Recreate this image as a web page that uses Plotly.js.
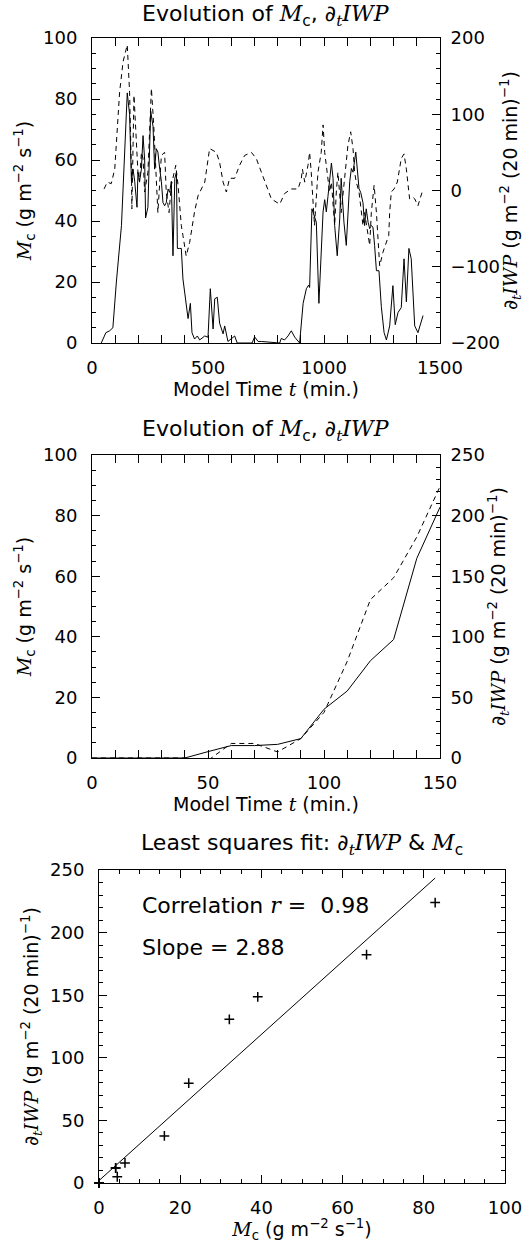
<!DOCTYPE html>
<html><head><meta charset="utf-8">
<script src="https://cdn.plot.ly/plotly-3.0.1.min.js"></script>
<style>html,body{margin:0;padding:0;background:#fff}#chart{width:524px;height:1243px}</style>
</head><body><div id="chart"></div>
<script>
// ---- Panel 1: full run (Model time, min.) ----
const timeMc = [40,60,76,90,105,127,152,162,170,177,184,194,198,205,213,220,227,231,241,253,263,270,277,284,292,299,306,313,320,328,335,342,349,357,364,368,378,385,392,406,414,424,431,442,454,464,486,500,510,522,529,540,550,565,572,586,600,615,626,650,690,701,716,730,760,780,809,816,830,845,859,874,895,910,924,934,938,948,959,967,978,996,1003,1010,1017,1024,1032,1039,1046,1057,1068,1074,1082,1086,1096,1103,1111,1118,1125,1137,1144,1151,1158,1168,1175,1182,1190,1197,1204,1211,1218,1226,1237,1247,1259,1269,1283,1297,1307,1319,1333,1345,1355,1366,1376,1391,1405,1427];
const mcValues = [0,3.4,4,5,20,38.5,82,75,53,57,53,44.5,56,53,57,68,60,41,44.5,76,71,57,63.7,62.6,57,53,46,45,46,50.5,49.4,53,28.6,54,56,31,31,31,21,13,8,13,3.4,1.3,2.3,1,2.3,1.9,17.8,4.6,14.5,15,6.5,3,5.6,0.5,1.5,2.3,0,0,0,2,0.5,0.5,0.3,0,0,1.5,1,2.3,4,1.9,0,13,17.8,19,18.2,44,41,39.6,13,43,47,43,48,54,59,54,38.5,28.6,41,54,41,39.6,32,42,53,57.2,56,62.6,56,50.6,49.4,46,38.5,44,39.6,37.5,38.5,38,32,23.7,23.7,12,3.4,1,5.6,18.8,6,10,11.6,27.6,13.5,31,27.6,5.6,3.4,9];
const timeIWP = [52,66,83,98,119,134,152,162,170,172,181,191,198,205,213,220,227,241,256,266,277,284,299,313,320,332,342,356,361,371,385,392,406,421,442,457,486,507,521,536,550,565,579,593,615,636,658,687,708,730,751,773,809,830,859,888,902,907,917,931,938,945,959,974,988,996,1003,1017,1024,1032,1046,1053,1060,1074,1086,1096,1103,1115,1125,1132,1139,1151,1158,1168,1175,1190,1197,1204,1216,1226,1233,1240,1254,1269,1279,1283,1290,1302,1316,1333,1345,1355,1369,1384,1391,1405,1427];
const iwpValues = [2,11,9,28,129,169,191,129,24,-24,125,72,24,11,50,42,-2,24,134,86,24,-29,46,50,-2,-29,7,24,33,7,-46,-59,-86,-68,-28,-7,11,55,53,50,37,11,-2,16,16,33,46,50,42,24,7,-11,-18,-4,2,2,15,28,11,33,50,24,-46,24,50,86,50,11,-2,11,-46,-2,24,-29,7,33,59,77,55,24,11,-2,-24,-46,-29,-55,-72,-29,7,-29,-68,-99,-81,-68,-59,-29,-2,2,11,42,48,28,-11,-9,-11,-20,2];

// ---- Panel 2/3: first 150 minutes ----
const timeEarly = [0,10,20,30,40,50,60,70,80,90,100,110,120,130,140,150];
const mcEarly  = [0,0,0,0,0,2.1,4.1,4.1,4.5,6.4,16.1,22.1,32.1,39.1,65.9,82.8];
const iwpEarly = [0,0,0,0,0,-2,12,12,5,16,37.6,79.7,130.7,148.7,182.4,224];

// ---- Text ----
const it = s => '<span style="font-family:\'DejaVu Serif\'"><i>' + s + '</i></span>';
const titleEvo = 'Evolution of ' + it('M') + '<sub>c</sub>, ∂<sub>' + it('t') + '</sub>' + it('IWP');
const titleFit = 'Least squares fit: ∂<sub>' + it('t') + '</sub>' + it('IWP') + ' &amp; ' + it('M') + '<sub>c</sub>';
const labelMc = it('M') + '<sub>c</sub> (g m<sup>−2</sup> s<sup>−1</sup>)';
const labelIWP = '∂<sub>' + it('t') + '</sub>' + it('IWP') + ' (g m<sup>−2</sup> (20 min)<sup>−1</sup>)';
const labelTime = 'Model Time ' + it('t') + ' (min.)';
const corrText = 'Correlation ' + it('r') + ' =\u00a0\u00a00.98';
const slopeText = 'Slope = 2.88';

// least squares fit computed from the data
const n = mcEarly.length;
const mx = mcEarly.reduce((a,b)=>a+b,0)/n, my = iwpEarly.reduce((a,b)=>a+b,0)/n;
let sxy=0, sxx=0;
for (let i=0;i<n;i++){ sxy+=(mcEarly[i]-mx)*(iwpEarly[i]-my); sxx+=(mcEarly[i]-mx)**2; }
const slope = sxy/sxx, icpt = my - slope*mx;
const fitX = [0, Math.max(...mcEarly)];
const fitY = fitX.map(x => icpt + slope*x);

const W = 524, H = 1243;
const px = (a,b)=>[a/W, b/W];
const py = (top,bot)=>[(H-bot)/H, (H-top)/H];

const FONT = 'DejaVu Sans';
const tickFont = {family: FONT, size: 18, color: '#000'};
const titleFont = {family: FONT, size: 19, color: '#000'};
const headFont = {family: FONT, size: 22, color: '#000'};

function ax(extra){
  return Object.assign({
    showgrid:false, zeroline:false, showline:true, linecolor:'#000', linewidth:1,
    ticks:'inside', ticklen:8, tickwidth:1, tickcolor:'#000',
    tickfont: tickFont, fixedrange:true
  }, extra);
}
const minorOf = d => ({ticks:'inside', dtick:d, ticklen:4, tickcolor:'#000'});

const solid = {color:'#000', width:1};
const dashed = {color:'#000', width:1, dash:'5px,4px'};

const traces = [
  {x: timeMc, y: mcValues, xaxis:'x', yaxis:'y', mode:'lines', line: solid},
  {x: timeIWP, y: iwpValues, xaxis:'x', yaxis:'y2', mode:'lines', line: dashed},
  {x: timeEarly, y: mcEarly, xaxis:'x2', yaxis:'y3', mode:'lines', line: solid},
  {x: timeEarly, y: iwpEarly, xaxis:'x2', yaxis:'y4', mode:'lines', line: dashed},
  {x: mcEarly, y: iwpEarly, xaxis:'x3', yaxis:'y5', mode:'markers', cliponaxis:false,
   marker:{symbol:'cross-thin', size:7, line:{color:'#000', width:1.5}}},
  {x: fitX, y: fitY, xaxis:'x3', yaxis:'y5', mode:'lines', line: solid}
];

const xStd = {ticklabelstandoff: 8};
const yStdL = {ticklabelstandoff: 10};
const yStdR = {ticklabelstandoff: 6};

const layout = {
  width: W, height: H, margin:{l:0,r:0,t:0,b:0},
  paper_bgcolor:'#fff', plot_bgcolor:'#fff', showlegend:false,
  font:{family: FONT, color:'#000'},
  xaxis: ax(Object.assign({domain: px(92,440), anchor:'y', range:[0,1500], tick0:0, dtick:500, mirror:'allticks',
    minor: minorOf(100), title:{text: labelTime, font: titleFont, standoff: 4}}, xStd)),
  yaxis: ax(Object.assign({domain: py(38,343), anchor:'x', range:[0,100], dtick:20, side:'left',
    minor: minorOf(5), title:{text: labelMc, font: titleFont, standoff: 6}}, yStdL)),
  yaxis2: ax(Object.assign({domain: py(38,343), anchor:'x', overlaying:'y', side:'right', range:[-200,200], dtick:100,
    minor: minorOf(20), title:{text: labelIWP, font: titleFont, standoff: 6}}, yStdR)),

  xaxis2: ax(Object.assign({domain: px(92,440), anchor:'y3', range:[0,150], tick0:0, dtick:50, mirror:'allticks',
    minor: minorOf(10), title:{text: labelTime, font: titleFont, standoff: 4}}, xStd)),
  yaxis3: ax(Object.assign({domain: py(455,758), anchor:'x2', range:[0,100], dtick:20, side:'left',
    minor: minorOf(5), title:{text: labelMc, font: titleFont, standoff: 6}}, yStdL)),
  yaxis4: ax(Object.assign({domain: py(455,758), anchor:'x2', overlaying:'y3', side:'right', range:[0,250], dtick:50,
    minor: minorOf(10), title:{text: labelIWP, font: titleFont, standoff: 6}}, yStdR)),

  xaxis3: ax(Object.assign({domain: px(99,505), anchor:'y5', range:[0,100], tick0:0, dtick:20, mirror:'allticks',
    minor: minorOf(5), title:{text: labelMc, font: titleFont, standoff: 4}}, xStd)),
  yaxis5: ax(Object.assign({domain: py(870,1183), anchor:'x3', range:[0,250], dtick:50, mirror:'allticks',
    minor: minorOf(10), title:{text: labelIWP, font: titleFont, standoff: 6}}, yStdL)),

  annotations: [
    {text: titleEvo, xref:'paper', yref:'paper', x:(92+440)/2/W, y:(H-15)/H, showarrow:false,
     xanchor:'center', yanchor:'middle', font: headFont},
    {text: titleEvo, xref:'paper', yref:'paper', x:(92+440)/2/W, y:(H-430)/H, showarrow:false,
     xanchor:'center', yanchor:'middle', font: headFont},
    {text: titleFit, xref:'paper', yref:'paper', x:(99+505)/2/W, y:(H-845)/H, showarrow:false,
     xanchor:'center', yanchor:'middle', font: headFont},
    {text: corrText, xref:'x3', yref:'y5', x:10, y:222, showarrow:false, xanchor:'left', yanchor:'middle',
     font: headFont},
    {text: slopeText, xref:'x3', yref:'y5', x:10, y:188, showarrow:false, xanchor:'left', yanchor:'middle',
     font: headFont}
  ]
};

Plotly.newPlot('chart', traces, layout, {staticPlot:true, displayModeBar:false});
</script>
</body></html>
